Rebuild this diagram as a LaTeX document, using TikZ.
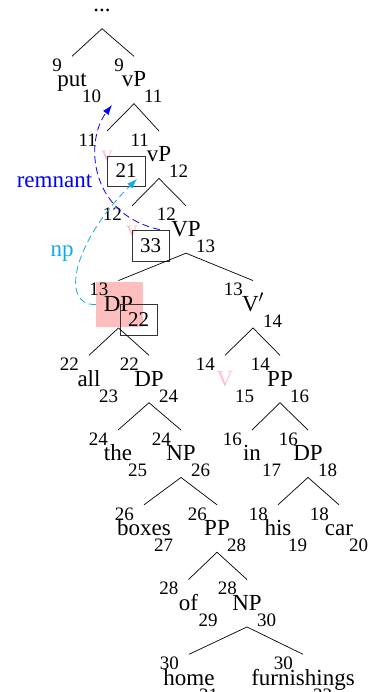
\documentclass[tikz,border=0pt]{standalone}
\usepackage{fontspec}
\setmainfont{Liberation Serif}
\usetikzlibrary{arrows.meta}
\definecolor{tracepink}{RGB}{255,192,203}
\definecolor{hlpink}{RGB}{255,190,190}
\definecolor{npblue}{RGB}{20,170,230}

\begin{document}
\begin{tikzpicture}[x=1pt, y=-1pt,
    cat/.style={anchor=base, inner xsep=1pt, inner ysep=0pt, text height=30.5pt, text depth=16.5pt, font=\fontsize{23}{25}\selectfont},
    tracecat/.style={cat, text=tracepink},
    idx/.style={inner sep=0pt, font=\fontsize{19}{20}\selectfont},
    idxbox/.style={draw=black!80, line width=0.8pt, minimum width=37pt, minimum height=31pt, inner sep=0pt, font=\fontsize{21}{22}\selectfont},
    branch/.style={line width=0.7pt},
    move/.style={dash pattern=on 7pt off 4pt, line width=0.8pt, -{Latex[length=10pt,width=7pt]}},
    movelabel/.style={anchor=base, inner sep=0pt, font=\fontsize{23}{25}\selectfont}]
    \useasboundingbox (0,0) rectangle (369,692);
    \clip (0,0) rectangle (369,692);

    % highlight behind the moved DP
    \node[fill=hlpink, minimum width=47pt, minimum height=45pt, inner sep=0pt] (hl) at (119.5,304.5) {};

    % tree nodes, one row per level
    \node[cat] (top) at (102,12) {...};
    \node[cat] (put) at (72,87) {put};
    \node[cat] (vPa) at (134,87) {vP};
    \node[tracecat] (va) at (107,161.75) {v};
    \node[cat] (vPb) at (159,161.75) {vP};
    \node[tracecat] (vb) at (132,236.5) {v};
    \node[cat] (VP) at (186,236.5) {VP};
    \node[cat] (DPa) at (118.5,311.25) {DP};
    \node[cat] (Vbar) at (253,311.25) {V$'$};
    \node[cat] (all) at (89,386) {all};
    \node[cat] (DPb) at (149,386) {DP};
    \node[tracecat] (Vc) at (225,386) {V};
    \node[cat] (PPa) at (280,386) {PP};
    \node[cat] (the) at (118,460.75) {the};
    \node[cat] (NPa) at (181,460.75) {NP};
    \node[cat] (in) at (252,460.75) {in};
    \node[cat] (DPc) at (308,460.75) {DP};
    \node[cat] (boxes) at (144,535.5) {boxes};
    \node[cat] (PPb) at (217,535.5) {PP};
    \node[cat] (his) at (278,535.5) {his};
    \node[cat] (car) at (339,535.5) {car};
    \node[cat] (of) at (188.5,610.25) {of};
    \node[cat] (NPb) at (247,610.25) {NP};
    \node[cat] (home) at (189,685) {home};
    \node[cat] (furn) at (303,685) {furnishings};

    % start and end positions
    \foreach \n/\s/\e in {put/9/10, vPa/9/11, va/11/, vPb/11/12, vb/12/, VP/12/13,
        DPa/13/, Vbar/13/14, all/22/23, DPb/22/24, Vc/14/15, PPa/14/16,
        the/24/25, NPa/24/26, in/16/17, DPc/16/18, boxes/26/27, PPb/26/28,
        his/18/19, car/18/20, of/28/29, NPb/28/30, home/30/31, furn/30/32} {
        \node[idx, anchor=base east] at ([xshift=-10pt,yshift=15.5pt]\n.base) {\s};
        \node[idx, anchor=base west] at ([xshift=10pt,yshift=-16pt]\n.base) {\e};
    }

    % index boxes
    \node[idxbox, minimum width=38pt, minimum height=30pt] (b21) at (126,171) {21};
    \node[idxbox] (b33) at (150.5,245.5) {33};
    \node[idxbox] (b22) at (138.5,319.5) {22};

    % branches
    \foreach \p/\c in {top/put, top/vPa, vPa/va, vPa/vPb, vPb/vb, vPb/VP,
        VP/DPa, VP/Vbar, DPa/all, DPa/DPb, Vbar/Vc, Vbar/PPa,
        DPb/the, DPb/NPa, PPa/in, PPa/DPc, NPa/boxes, NPa/PPb,
        DPc/his, DPc/car, PPb/of, PPb/NPb, NPb/home, NPb/furn}
        \draw[branch] (\p.south) -- (\c.north);

    % movement arrows
    \coordinate (remtip) at (112,105);
    \coordinate (nptip) at (137,179);
    \draw[move, blue] (b33.60) .. controls (88,214) and (85,140) .. (remtip);
    \draw[move, npblue] (hl.west) .. controls (60,306) and (72,243) .. (nptip);
    \node[movelabel, blue] (remlab) at (54.5,188) {remnant};
    \node[movelabel, npblue] (nplab) at (62,257) {np};
\end{tikzpicture}
\end{document}
